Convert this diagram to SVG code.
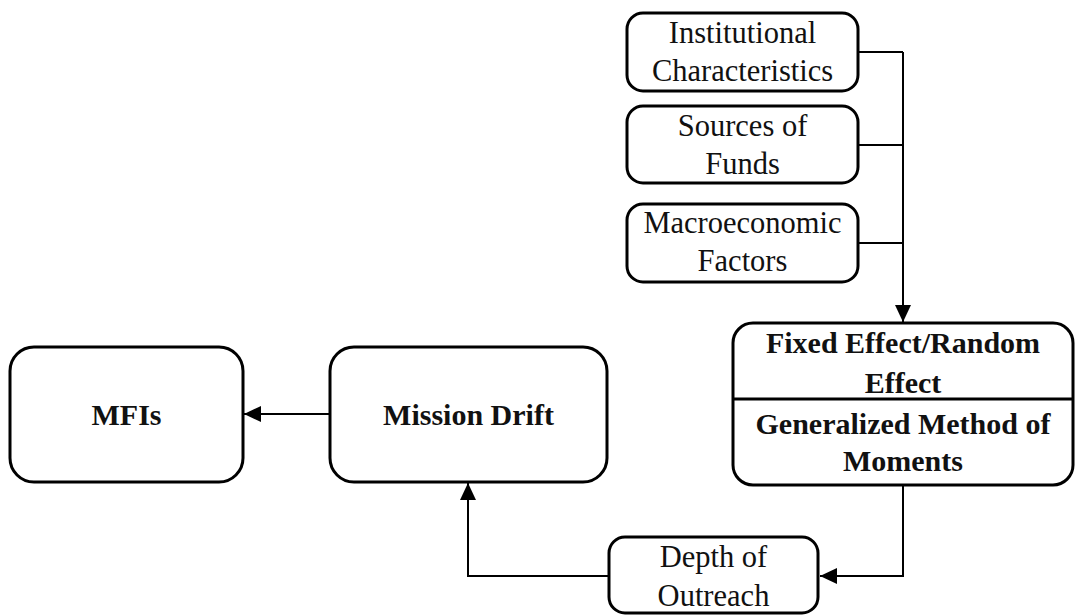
<svg xmlns="http://www.w3.org/2000/svg" width="1077" height="615" viewBox="0 0 1077 615">
<style>
.box{fill:#fff;stroke:#000;stroke-width:3}
.reg{font-family:"Liberation Serif","Times New Roman",serif;font-size:30.5px;fill:#111;text-anchor:middle}
.bold{font-family:"Liberation Serif","Times New Roman",serif;font-size:30px;font-weight:bold;fill:#111;text-anchor:middle}
.conn{fill:none;stroke:#000;stroke-width:2}
</style>
<defs>
<marker id="arr" markerUnits="userSpaceOnUse" markerWidth="18" markerHeight="16" refX="17" refY="8" orient="auto">
<path d="M0,0 L17,8 L0,16 Z" fill="#000"/>
</marker>
</defs>
<rect width="1077" height="615" fill="#fff"/>
<g id="connectors">
<path class="conn" d="M858,52 H903 M858,145 H903 M858,243 H903"/>
<path class="conn" d="M903,52 V322" marker-end="url(#arr)"/>
<path class="conn" d="M903,485 V576 H820" marker-end="url(#arr)"/>
<path class="conn" d="M609,576 H468 V483" marker-end="url(#arr)"/>
<path class="conn" d="M330,414 H244" marker-end="url(#arr)"/>
</g>
<g id="institutional">
<rect class="box" x="627" y="13" width="231" height="78" rx="16"/>
<text class="reg" x="742.5" y="43">Institutional</text>
<text class="reg" x="742.5" y="81">Characteristics</text>
</g>
<g id="sources">
<rect class="box" x="627" y="106" width="231" height="77" rx="16"/>
<text class="reg" x="742.5" y="136">Sources of</text>
<text class="reg" x="742.5" y="174">Funds</text>
</g>
<g id="macro">
<rect class="box" x="627" y="204" width="231" height="78" rx="16"/>
<text class="reg" x="742.5" y="233">Macroeconomic</text>
<text class="reg" x="742.5" y="271">Factors</text>
</g>
<g id="methods">
<rect class="box" x="733" y="323" width="340" height="162" rx="20"/>
<line x1="733" y1="399" x2="1073" y2="399" stroke="#000" stroke-width="3"/>
<text class="bold" x="903" y="353">Fixed Effect/Random</text>
<text class="bold" x="903" y="393">Effect</text>
<text class="bold" x="903" y="434">Generalized Method of</text>
<text class="bold" x="903" y="471">Moments</text>
</g>
<g id="depth">
<rect class="box" x="609" y="537" width="209" height="76" rx="16"/>
<text class="reg" x="713.5" y="567">Depth of</text>
<text class="reg" x="713.5" y="606">Outreach</text>
</g>
<g id="mission">
<rect class="box" x="330" y="347" width="277" height="135" rx="24"/>
<text class="bold" x="468.5" y="425">Mission Drift</text>
</g>
<g id="mfis">
<rect class="box" x="10" y="347" width="233" height="135" rx="24"/>
<text class="bold" x="126.5" y="425">MFIs</text>
</g>
</svg>
